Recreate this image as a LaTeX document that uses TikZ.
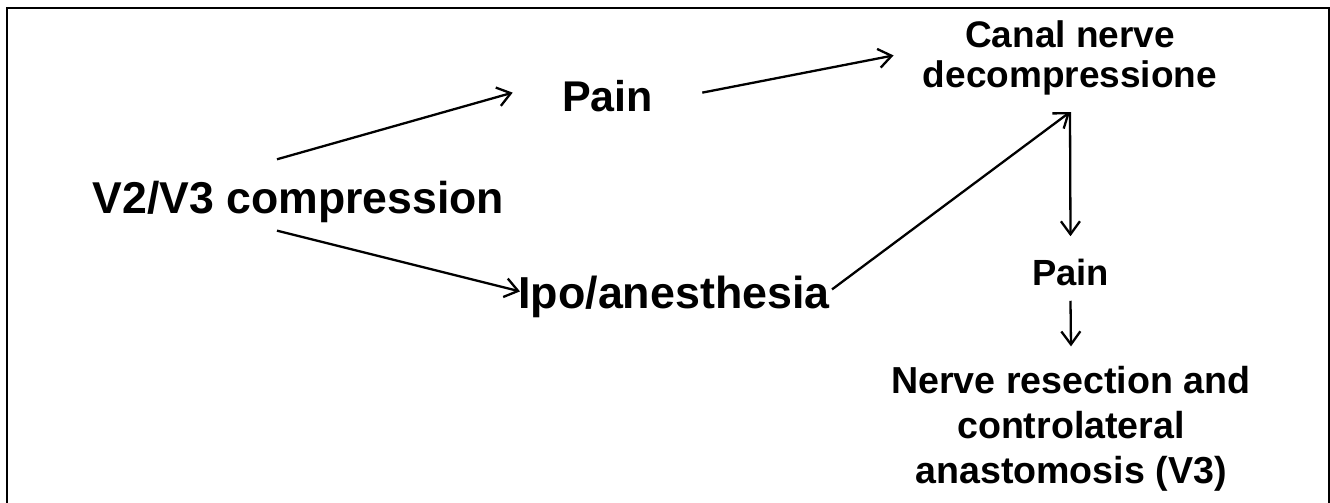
\documentclass[tikz,border=0pt]{standalone}
\usepackage{fontspec}
\setmainfont{Liberation Sans}
\usetikzlibrary{arrows.meta,calc}
\tikzset{
  lbl/.style={inner sep=0pt, font=\bfseries, align=center},
  arr/.style={line width=1.15pt, -{Straight Barb[length=6.5pt,width=9.5pt,line width=1.15pt]}},
  frame/.style={line width=1pt}
}
\begin{document}
\begin{tikzpicture}[x=0.5pt,y=-0.5pt]
\useasboundingbox (0,0) rectangle (1330,503);
\draw[frame] (6.5,503) -- (6.5,7.5) -- (1328.5,7.5) -- (1328.5,503);

\node[lbl, anchor=base, font=\bfseries\fontsize{22.3}{26}\selectfont] (v2) at (298.5,213) {V2/V3 compression};
\node[lbl, anchor=base, font=\bfseries\fontsize{21.5}{26}\selectfont] (pain1) at (607.5,112) {Pain};
\node[lbl, anchor=base, font=\bfseries\fontsize{22.4}{26}\selectfont] (ipo) at (674,308) {Ipo/anesthesia};
\node[lbl, anchor=base, font=\bfseries\fontsize{18.5}{20}\selectfont] (canal) at (1070,87) {Canal nerve\\decompressione};
\node[lbl, anchor=base, font=\bfseries\fontsize{18.2}{20}\selectfont] (pain2) at (1070.5,285) {Pain};
\node[lbl, anchor=base, font=\bfseries\fontsize{18.8}{22.5}\selectfont] (res) at (1071,483) {Nerve resection and\\controlateral\\anastomosis (V3)};

\draw[arr] ($(v2.north)+(-21.5,-21)$) -- ($(pain1.west)+(-49,-4)$);
\draw[arr] ($(pain1.east)+(49,-4)$) -- ($(canal.west)+(-29,-2)$);
\draw[arr] ($(v2.south)+(-21.5,8)$) -- ($(ipo.west)+(2,-5)$);
\draw[arr] ($(ipo.east)+(2,-7)$) -- ($(canal.south)+(0,17)$);
\draw[arr] ($(canal.south)+(0,17)$) -- ($(pain2.north)+(0,-22)$);
\draw[arr] ($(pain2.south)+(0,15)$) -- ($(res.north)+(0,-19)$);
\end{tikzpicture}
\end{document}
